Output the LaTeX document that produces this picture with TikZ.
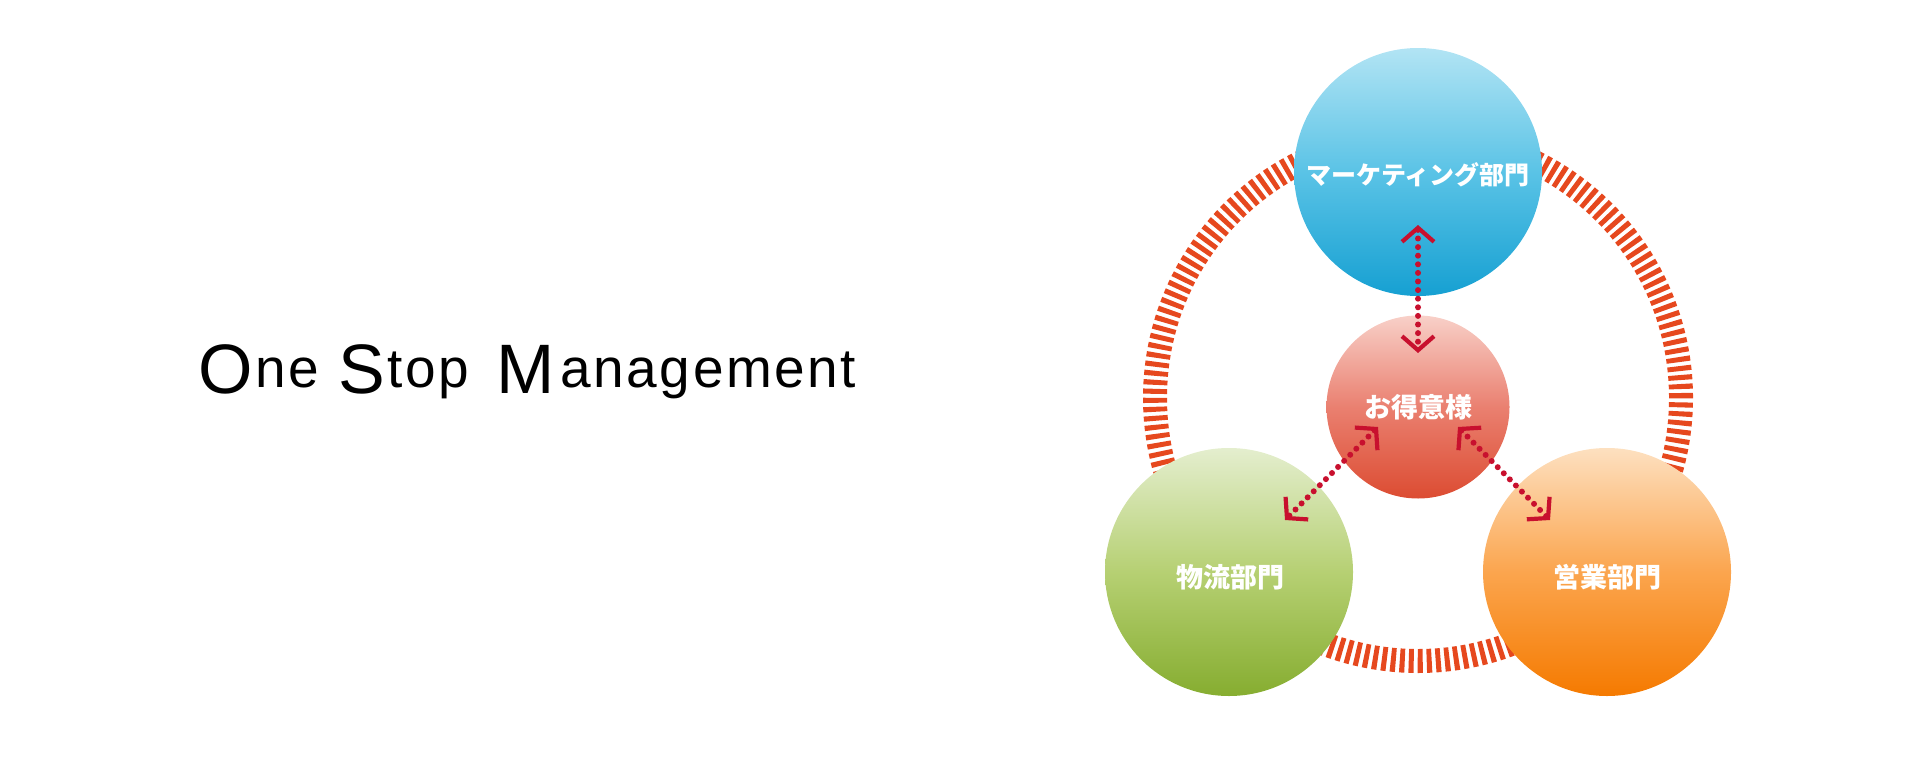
\documentclass[tikz,border=0pt]{standalone}
\usepackage{fontspec}
\usetikzlibrary{arrows.meta}
\newfontfamily\jpfont{Noto Sans CJK JP}
\newfontfamily\titlefont{Liberation Sans}
\definecolor{ringred}{RGB}{230,72,30}
\definecolor{linkred}{RGB}{200,16,46}
\definecolor{bluetop}{RGB}{178,228,244}
\definecolor{bluemid}{RGB}{90,195,230}
\definecolor{bluebot}{RGB}{22,160,210}
\definecolor{redtop}{RGB}{248,208,200}
\definecolor{redmid}{RGB}{234,128,112}
\definecolor{redbot}{RGB}{220,76,50}
\definecolor{greentop}{RGB}{228,238,206}
\definecolor{greenmid}{RGB}{182,208,115}
\definecolor{greenbot}{RGB}{134,173,48}
\definecolor{orangetop}{RGB}{253,224,192}
\definecolor{orangemid}{RGB}{251,165,78}
\definecolor{orangebot}{RGB}{245,122,0}
\newcommand{\capl}[1]{\raisebox{-6pt}{\fontsize{70}{70}\selectfont #1}}
\newcommand{\tk}{\kern2.5pt}
\tikzset{
  ball/.style={circle, inner sep=0pt, minimum size=248pt, draw=none},
  hub/.style={circle, inner sep=0pt, minimum size=183pt, draw=none},
  lbl/.style={text=white, font=\jpfont\bfseries\fontsize{27}{27}\selectfont, inner sep=0pt},
  ringstyle/.style={draw=ringred, line width=24pt, dash pattern=on 5pt off 3.98pt},
  >={Straight Barb[length=14pt, width=32pt, line width'=4.2pt, sharp]},
  link/.style={draw=linkred, line width=6pt, line cap=round, dash pattern=on 0pt off 8.6pt, <->}
}
\begin{document}
\begin{tikzpicture}[x=1pt, y=-1pt]
\useasboundingbox (0,0) rectangle (1919,779);
% title
\node[anchor=base west, inner sep=0pt, font=\titlefont\fontsize{55}{55}\selectfont] (title) at (198.5,387)
  {\capl{O}\tk n\tk e\ \kern4.2pt\capl{S}\tk t\tk o\tk p\ \kern12pt\capl{M}\kern5.7pt a\tk n\tk a\tk g\tk e\tk m\tk e\tk n\tk t};
% ring
\draw[ringstyle] (1418,398) circle[radius=263pt];
% circles
\node[ball, top color=bluetop, bottom color=bluebot, middle color=bluemid] (mkt) at (1418,172) {};
\node[ball, top color=greentop, bottom color=greenbot, middle color=greenmid] (log) at (1229,572) {};
\node[ball, top color=orangetop, bottom color=orangebot, middle color=orangemid] (sales) at (1607,572) {};
\node[hub, top color=redtop, bottom color=redbot, middle color=redmid] (cust) at (1418,407) {};
% labels
\node[lbl, font=\jpfont\bfseries\fontsize{25}{25}\selectfont] (mktL) at (1418,175) {マーケティング部門};
\node[lbl] (custL) at (1418,407) {お得意様};
\node[lbl] (logL) at (1230,577) {物流部門};
\node[lbl] (salesL) at (1607,577) {営業部門};
% arrow ends
\coordinate (a1) at (1418,225);
\coordinate (a2) at (1418,353);
\coordinate (b1) at (1378,427);
\coordinate (b2) at (1285,520);
\coordinate (c1) at (1458,427);
\coordinate (c2) at (1550,520);
\draw[link] (a1) -- (a2);
\draw[link] (b1) -- (b2);
\draw[link] (c1) -- (c2);
\end{tikzpicture}
\end{document}
